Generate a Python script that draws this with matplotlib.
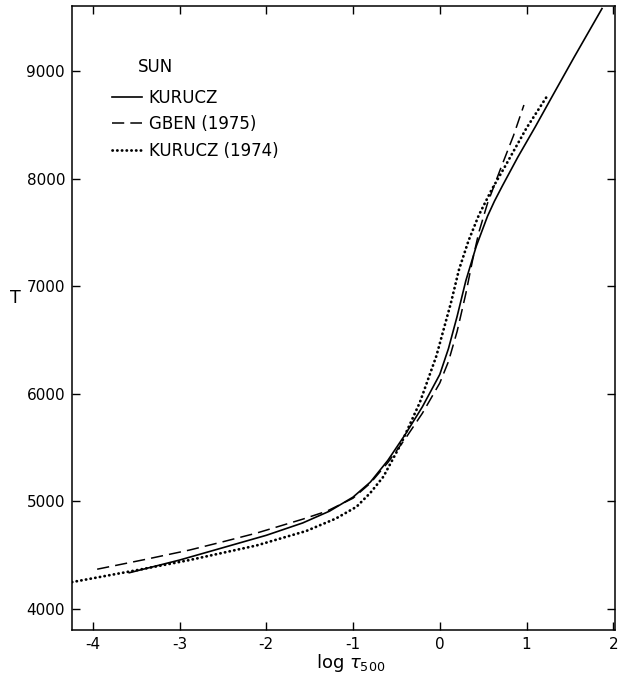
import matplotlib
matplotlib.use("Agg")
import matplotlib.pyplot as plt

# Temperatura vs log tau_500 dla modeli Slonca
kurucz_x = [-3.58, -3.0, -2.5, -2.0, -1.58, -1.27, -1.0, -0.8, -0.6, -0.4, -0.2,
            0.0, 0.1, 0.2, 0.3, 0.42, 0.55, 0.63, 0.72, 0.9, 1.1, 1.3, 1.55, 1.87]
kurucz_t = [4337, 4455, 4570, 4685, 4800, 4910, 5040, 5180, 5380, 5620, 5880,
            6180, 6420, 6720, 7050, 7370, 7650, 7790, 7930, 8200, 8480, 8770, 9130, 9580]

gben_x = [-3.95, -3.4, -2.885, -2.5, -2.115, -1.58, -1.3, -1.0, -0.8, -0.6, -0.4,
          -0.2, 0.0, 0.1, 0.2, 0.3, 0.38, 0.45, 0.55, 0.7, 0.85, 0.97]
gben_t = [4370, 4460, 4548, 4625, 4705, 4835, 4910, 5030, 5170, 5360, 5580,
          5820, 6100, 6300, 6580, 6930, 7250, 7500, 7770, 8090, 8400, 8684]

kur74_x = [-4.24, -3.5, -2.885, -2.115, -1.54, -1.2, -0.96, -0.8, -0.65, -0.45,
           -0.23, -0.04, 0.13, 0.22, 0.33, 0.45, 0.6, 0.75, 1.0, 1.24]
kur74_t = [4250, 4360, 4455, 4590, 4725, 4840, 4950, 5080, 5230, 5530,
           5920, 6350, 6850, 7150, 7420, 7660, 7900, 8110, 8470, 8770]

x_ticks = [-4, -3, -2, -1, 0, 1, 2]
y_ticks = [4000, 5000, 6000, 7000, 8000, 9000]

plt.rcParams['axes.unicode_minus'] = False
fig = plt.figure(figsize=(6.22, 6.79), dpi=100)
ax = fig.add_axes([72/622, 49/679, 543/622, 624/679])

ax.plot(kurucz_x, kurucz_t, color='black', lw=1.2, label='KURUCZ')
ax.plot(gben_x, gben_t, color='black', lw=1.1, linestyle=(0, (8, 4)), label='GBEN (1975)')
ax.plot(kur74_x, kur74_t, color='black', lw=2.0, linestyle=(0, (0.1, 1.6)),
        dash_capstyle='round', label='KURUCZ (1974)')

ax.set_xlim(-4.24, 2.02)
ax.set_ylim(3805, 9604)
ax.set_xticks(x_ticks)
ax.set_yticks(y_ticks)
ax.tick_params(direction='in', length=6, width=1.0, top=True, right=True,
               labelsize=11, pad=5)
for s in ax.spines.values():
    s.set_linewidth(1.1)

ax.set_xlabel(r'log $\tau_{500}$', fontsize=13, labelpad=1)
ax.xaxis.set_label_coords(0.513, -0.035, transform=ax.transAxes)
ax.set_ylabel('T', fontsize=12.5, rotation=0, va='center')
ax.yaxis.set_label_coords(-0.105, 0.532)

ax.text(0.1215, 0.902, 'SUN', transform=ax.transAxes, fontsize=12, va='center')
ax.legend(loc='upper left', bbox_to_anchor=(0.0737, 0.867), frameon=False,
          borderpad=0, borderaxespad=0, handlelength=1.8, handletextpad=0.4,
          labelspacing=0.5, fontsize=12)

plt.savefig("out.png", dpi=100)
